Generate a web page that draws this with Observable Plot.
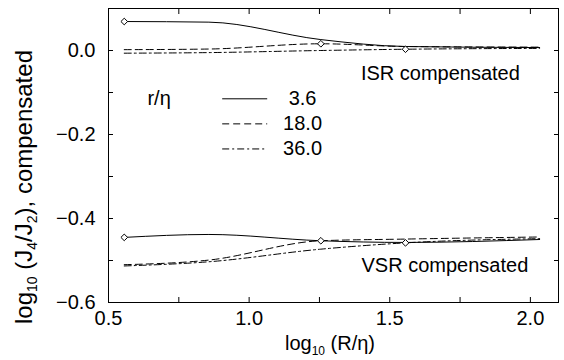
<!DOCTYPE html>
<html>
<head>
<meta charset="utf-8">
<script src="https://cdn.jsdelivr.net/npm/d3@7"></script>
<script src="https://cdn.jsdelivr.net/npm/@observablehq/plot@0.6"></script>
<style>
  html, body { margin: 0; padding: 0; background: #fff; }
  #chart svg { display: block; }
</style>
</head>
<body>
<div id="chart"></div>
<script>
// ---- data ----
const logR = [0.556, 0.857, 1.255, 1.556, 2.033];           // log10(R/eta)
const seriesNames = ["3.6", "18.0", "36.0"];                 // r/eta
const isr36  = [0.069, 0.0675, 0.026, 0.0095, 0.007];
const isr18  = [0.002, 0.0035, 0.016, 0.0095, 0.008];
const isr360 = [-0.0064, -0.005, 0.0, 0.003, 0.005];
const vsr36  = [-0.445, -0.438, -0.453, -0.457, -0.450];
const vsr18  = [-0.510, -0.499, -0.453, -0.449, -0.444];
const vsr360 = [-0.513, -0.503, -0.473, -0.458, -0.448];
// diamonds mark R = r on each curve (index of the point on each series)
const markerIndex = [0, 2, 3];
const xTickLabels = [0.5, 1.0, 1.5, 2.0];
const yTickLabels = [0.0, -0.2, -0.4, -0.6];
const xMinorTicks = [0.5, 0.75, 1.0, 1.25, 1.5, 1.75, 2.0];
const yMinorTicks = [0.1, 0.0, -0.1, -0.2, -0.3, -0.4, -0.5, -0.6];

// ---- build rows ----
const dashes = [null, "7,4", "7,3,2,3"];
const isr = [isr36, isr18, isr360];
const vsr = [vsr36, vsr18, vsr360];
const rows = [];
["ISR", "VSR"].forEach((regime, ri) => {
  const src = ri === 0 ? isr : vsr;
  seriesNames.forEach((s, si) => {
    logR.forEach((x, i) => rows.push({regime, series: s, si, x, y: src[si][i]}));
  });
});
const markers = [];
[isr, vsr].forEach((src, ri) => {
  markerIndex.forEach((idx, si) => markers.push({x: logR[idx], y: src[si][idx]}));
});

// layout of legend / annotations (data coordinates)
const legendRows = seriesNames.map((s, i) => ({s, i, y: -0.115 - i * 0.0597}));

const font = "'Liberation Sans', Arial, Helvetica, sans-serif";

const lineMarks = [];
["ISR", "VSR"].forEach(regime => {
  seriesNames.forEach((s, si) => {
    lineMarks.push(Plot.line(rows.filter(d => d.regime === regime && d.series === s), {
      x: "x", y: "y", stroke: "black", strokeWidth: 1, curve: "monotone-x",
      strokeDasharray: dashes[si]
    }));
  });
});

const legendMarks = legendRows.map(r => Plot.ruleY([r], {
  y: "y", x1: 0.906, x2: 1.066, stroke: "black", strokeWidth: 1,
  strokeDasharray: dashes[r.i]
}));

const plot = Plot.plot({
  width: 564,
  height: 360,
  marginLeft: 108,
  marginRight: 6,
  marginTop: 8,
  marginBottom: 58,
  style: {fontFamily: font, fontSize: "20px", color: "black", background: "white"},
  x: {domain: [0.5, 2.1]},
  y: {domain: [-0.6, 0.1]},
  marks: [
    Plot.frame({stroke: "black", strokeWidth: 1}),
    Plot.axisX({anchor: "bottom", ticks: xMinorTicks, tickSize: -5, text: null, label: null}),
    Plot.axisX({anchor: "top", ticks: xMinorTicks, tickSize: -5, text: null, label: null}),
    Plot.axisY({anchor: "left", ticks: yMinorTicks, tickSize: -5, text: null, label: null}),
    Plot.axisY({anchor: "right", ticks: yMinorTicks, tickSize: -5, text: null, label: null}),
    Plot.axisX({anchor: "bottom", ticks: xTickLabels, tickSize: 0, tickPadding: 8,
      tickFormat: d3.format(".1f"), label: null}),
    Plot.axisY({anchor: "left", ticks: yTickLabels, tickSize: 0, tickPadding: 13,
      tickFormat: d3.format(".1f"), label: null}),
    ...lineMarks,
    Plot.dot(markers, {x: "x", y: "y", symbol: "diamond2", r: 3, stroke: "black",
      fill: "white", strokeWidth: 1}),
    Plot.text(["ISR compensated"], {x: 1.68, y: -0.055, text: d => d, fontSize: 20}),
    Plot.text(["VSR compensated"], {x: 1.696, y: -0.513, text: d => d, fontSize: 20}),
    Plot.text(["r/η"], {x: 0.68, y: -0.115, text: d => d, fontSize: 20}),
    ...legendMarks,
    Plot.text(legendRows, {x: 1.19, y: "y", text: "s", fontSize: 20})
  ]
});

document.getElementById("chart").appendChild(plot);

// axis titles with subscripts
const svg = d3.select(plot);
const yl = svg.append("text")
  .attr("transform", "translate(32,187) rotate(-90)")
  .attr("text-anchor", "middle")
  .attr("font-family", font)
  .attr("font-size", 24)
  .attr("fill", "black");
yl.append("tspan").text("log");
yl.append("tspan").attr("font-size", 14).attr("dy", 5).text("10");
yl.append("tspan").attr("dy", -5).text(" (J");
yl.append("tspan").attr("font-size", 14).attr("dy", 5).text("4");
yl.append("tspan").attr("dy", -5).text("/J");
yl.append("tspan").attr("font-size", 14).attr("dy", 5).text("2");
yl.append("tspan").attr("dy", -5).text("), compensated");

const xl = svg.append("text")
  .attr("x", 330).attr("y", 350)
  .attr("text-anchor", "middle")
  .attr("font-family", font)
  .attr("font-size", 20)
  .attr("fill", "black");
xl.append("tspan").text("log");
xl.append("tspan").attr("font-size", 12).attr("dy", 5).text("10");
xl.append("tspan").attr("dy", -5).text(" (R/η)");
</script>
</body>
</html>
